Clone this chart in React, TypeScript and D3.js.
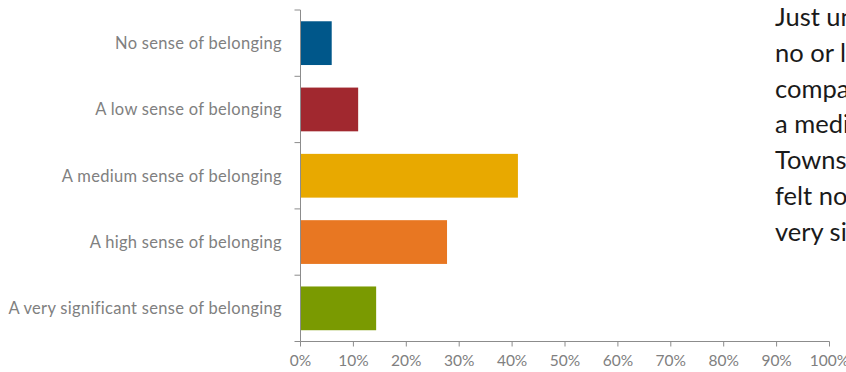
import React from "react";
import * as d3 from "d3";

const categories = [
  "No sense of belonging",
  "A low sense of belonging",
  "A medium sense of belonging",
  "A high sense of belonging",
  "A very significant sense of belonging",
];
const values = [5.9, 10.9, 41.1, 27.7, 14.3];
const colors = ["#00578a", "#a1282f", "#e8a900", "#e87722", "#7a9a01"];
const xTicks = [0, 10, 20, 30, 40, 50, 60, 70, 80, 90, 100];
const sideText = [
  "Just under",
  "no or low",
  "compared",
  "a medium",
  "Townsville",
  "felt no",
  "very significant",
];

const W = 846;
const H = 372;
const left = 300.5;
const right = 829.5;
const top = 10;
const bottom = 341.5;
const axisColor = "#8c8c8c";
const labelColor = "#808080";
const font = "Lato, 'Open Sans', sans-serif";

export default function App() {
  const x = d3.scaleLinear().domain([0, 100]).range([left, right]);
  const y = d3
    .scaleBand<string>()
    .domain(categories)
    .range([top, bottom])
    .paddingInner(0.34)
    .paddingOuter(0.17);
  const bandStep = (bottom - top) / categories.length;
  const yTickPos = d3.range(categories.length + 1).map((i) => top + i * bandStep);

  return (
    <svg
      width={W}
      height={H}
      style={{ position: "absolute", left: 0, top: 0, overflow: "hidden", background: "#fff" }}
    >
      {categories.map((c, i) => (
        <rect
          key={c}
          x={x(0)}
          y={y(c)!}
          width={x(values[i]) - x(0)}
          height={y.bandwidth()}
          fill={colors[i]}
        />
      ))}
      {/* y axis */}
      <line x1={left} x2={left} y1={top} y2={bottom} stroke={axisColor} strokeWidth={1} />
      {yTickPos.map((p, i) => (
        <line key={i} x1={left - 6} x2={left} y1={p} y2={p} stroke={axisColor} strokeWidth={1} />
      ))}
      {categories.map((c) => (
        <text
          key={c}
          x={282}
          y={y(c)! + y.bandwidth() / 2}
          dy="0.35em"
          textAnchor="end"
          fontFamily={font}
          fontSize={16.5}
          letterSpacing={0.3}
          fill={labelColor}
        >
          {c}
        </text>
      ))}
      {/* x axis */}
      <line x1={left} x2={right} y1={bottom} y2={bottom} stroke={axisColor} strokeWidth={1} />
      {xTicks.map((t) => (
        <g key={t}>
          <line x1={x(t)} x2={x(t)} y1={bottom} y2={bottom + 5} stroke={axisColor} strokeWidth={1} />
          <text
            x={x(t)}
            y={366}
            textAnchor="middle"
            fontFamily={font}
            fontSize={15.5}
            fill={labelColor}
          >
            {t + "%"}
          </text>
        </g>
      ))}
      {sideText.map((s, i) => (
        <text
          key={i}
          x={775}
          y={26 + i * 35.8}
          fontFamily={font}
          fontSize={25.5}
          fill="#1a1a1a"
        >
          {s}
        </text>
      ))}
    </svg>
  );
}
